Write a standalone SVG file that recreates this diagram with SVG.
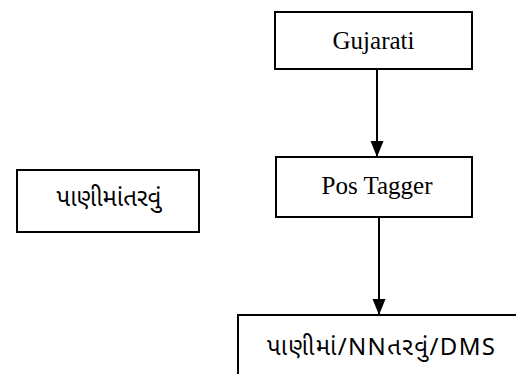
<svg xmlns="http://www.w3.org/2000/svg" width="516" height="374" viewBox="0 0 516 374">
  <style>
    .box { fill: #ffffff; stroke: #000000; stroke-width: 2; }
    .lat { font-family: "Liberation Serif", "Times New Roman", serif; font-size: 25px; fill: #000; text-anchor: middle; dominant-baseline: central; }
    .guj { font-family: "Noto Sans Gujarati", "Noto Sans", "DejaVu Sans", sans-serif; font-size: 24px; fill: #000; text-anchor: middle; dominant-baseline: central; }
    .edge { stroke: #000000; stroke-width: 2; fill: none; }
  </style>
  <defs>
    <marker id="arrow" markerUnits="userSpaceOnUse" markerWidth="16" markerHeight="14" refX="15" refY="6.5" orient="auto">
      <path d="M0,0 L16,6.5 L0,13 Z" fill="#000"/>
    </marker>
  </defs>
  <rect width="516" height="374" fill="#ffffff"/>

  <g id="connectors">
    <line class="edge" x1="377" y1="70" x2="377" y2="156" marker-end="url(#arrow)"/>
    <line class="edge" x1="379" y1="217" x2="379" y2="314" marker-end="url(#arrow)"/>
  </g>

  <g id="node-gujarati">
    <rect class="box" x="275" y="12" width="197" height="57"/>
    <text class="lat" x="373.5" y="40">Gujarati</text>
  </g>

  <g id="node-pos-tagger">
    <rect class="box" x="276" y="157" width="196" height="60"/>
    <text class="lat" x="377" y="185">Pos Tagger</text>
  </g>

  <g id="node-input-word">
    <rect class="box" x="17" y="170" width="182" height="62"/>
    <text class="guj" x="109" y="200">પાણીમાંતરવું</text>
  </g>

  <g id="node-tagged-output">
    <rect class="box" x="238" y="315" width="300" height="100"/>
    <text class="guj" x="381" y="349" textLength="228" lengthAdjust="spacing">પાણીમાં/NNતરવું/DMS</text>
  </g>
</svg>
